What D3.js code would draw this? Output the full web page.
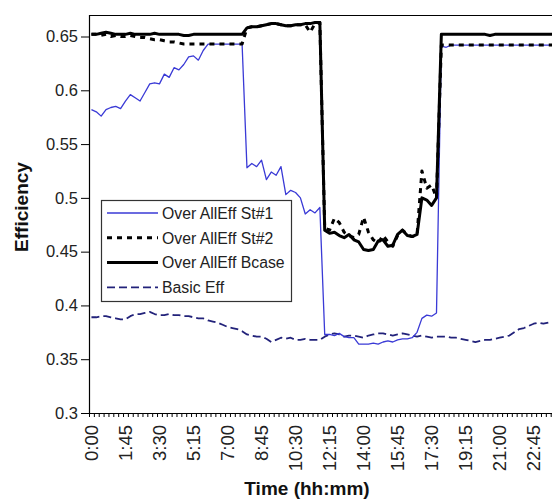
<!DOCTYPE html>
<html>
<head>
<meta charset="utf-8">
<script src="https://cdn.jsdelivr.net/npm/d3@7"></script>
<style>
  body { margin: 0; background: #fff; }
  text { font-family: "Liberation Sans", Arial, sans-serif; }
</style>
</head>
<body>
<svg id="canvas"></svg>
<script>
//--chart data (one value per 15 minutes, 0:00 .. 23:45)
let tickLabels = ["0:00", "1:45", "3:30", "5:15", "7:00", "8:45", "10:30", "12:15", "14:00", "15:45", "17:30", "19:15", "21:00", "22:45"]
let yTicks = [0.3, 0.35, 0.4, 0.45, 0.5, 0.55, 0.6, 0.65]

let st1 = [
  0.582, 0.580, 0.576, 0.582, 0.584, 0.585, 0.583, 0.590, 0.596, 0.593, 0.590, 0.598, 0.606, 0.607, 0.606, 0.615,
  0.612, 0.621, 0.619, 0.624, 0.631, 0.632, 0.628, 0.637, 0.643, 0.643, 0.643, 0.643, 0.643, 0.643, 0.643, 0.643,
  0.528, 0.532, 0.529, 0.535, 0.517, 0.524, 0.521, 0.529, 0.503, 0.507, 0.505, 0.500, 0.485, 0.489, 0.486, 0.491,
  0.373, 0.373, 0.372, 0.374, 0.371, 0.370, 0.370, 0.364, 0.364, 0.364, 0.365, 0.364, 0.366, 0.367, 0.366, 0.368,
  0.369, 0.369, 0.370, 0.375, 0.388, 0.391, 0.390, 0.393, 0.641, 0.640, 0.642, 0.642, 0.642, 0.642, 0.642, 0.642,
  0.642, 0.642, 0.642, 0.642, 0.642, 0.642, 0.642, 0.642, 0.642, 0.642, 0.642, 0.642, 0.642, 0.642, 0.642, 0.642
]
let st2 = [
  0.652, 0.652, 0.651, 0.652, 0.650, 0.651, 0.650, 0.650, 0.651, 0.650, 0.649, 0.649, 0.648, 0.647, 0.647, 0.646,
  0.645, 0.645, 0.644, 0.643, 0.643, 0.643, 0.643, 0.643, 0.643, 0.643, 0.643, 0.643, 0.643, 0.643, 0.643, 0.643,
  0.658, 0.659, 0.659, 0.660, 0.661, 0.662, 0.662, 0.661, 0.660, 0.660, 0.661, 0.661, 0.661, 0.654, 0.662, 0.663,
  0.472, 0.470, 0.481, 0.477, 0.468, 0.465, 0.463, 0.466, 0.482, 0.468, 0.461, 0.458, 0.465, 0.459, 0.455, 0.465,
  0.470, 0.466, 0.464, 0.466, 0.525, 0.509, 0.512, 0.500, 0.642, 0.642, 0.642, 0.642, 0.642, 0.642, 0.642, 0.642,
  0.642, 0.642, 0.642, 0.642, 0.642, 0.642, 0.642, 0.642, 0.642, 0.642, 0.642, 0.642, 0.642, 0.642, 0.642, 0.642
]
let bcase = [
  0.652, 0.652, 0.653, 0.654, 0.653, 0.652, 0.652, 0.652, 0.653, 0.652, 0.652, 0.652, 0.652, 0.653, 0.652, 0.652,
  0.652, 0.652, 0.652, 0.651, 0.651, 0.652, 0.652, 0.652, 0.652, 0.652, 0.652, 0.652, 0.652, 0.652, 0.652, 0.652,
  0.658, 0.659, 0.659, 0.660, 0.661, 0.662, 0.662, 0.661, 0.660, 0.660, 0.661, 0.661, 0.662, 0.662, 0.663, 0.663,
  0.470, 0.467, 0.468, 0.465, 0.463, 0.466, 0.461, 0.459, 0.452, 0.451, 0.452, 0.460, 0.461, 0.455, 0.456, 0.466,
  0.470, 0.465, 0.464, 0.466, 0.500, 0.498, 0.493, 0.500, 0.652, 0.652, 0.652, 0.652, 0.652, 0.652, 0.652, 0.652,
  0.652, 0.652, 0.651, 0.652, 0.652, 0.652, 0.652, 0.652, 0.652, 0.652, 0.652, 0.652, 0.652, 0.652, 0.652, 0.652
]
let basicEff = [
  0.389, 0.389, 0.390, 0.390, 0.389, 0.388, 0.387, 0.387, 0.390, 0.392, 0.392, 0.393, 0.394, 0.392, 0.391, 0.391,
  0.392, 0.391, 0.391, 0.390, 0.390, 0.389, 0.388, 0.388, 0.386, 0.385, 0.384, 0.382, 0.380, 0.379, 0.378, 0.376,
  0.373, 0.372, 0.371, 0.371, 0.369, 0.366, 0.368, 0.370, 0.369, 0.370, 0.368, 0.368, 0.369, 0.368, 0.368, 0.368,
  0.371, 0.373, 0.374, 0.373, 0.371, 0.372, 0.372, 0.371, 0.370, 0.372, 0.373, 0.374, 0.374, 0.373, 0.372, 0.373,
  0.374, 0.373, 0.372, 0.371, 0.372, 0.371, 0.370, 0.371, 0.371, 0.371, 0.370, 0.370, 0.369, 0.368, 0.367, 0.366,
  0.367, 0.368, 0.368, 0.369, 0.370, 0.371, 0.372, 0.375, 0.378, 0.379, 0.381, 0.383, 0.384, 0.383, 0.384, 0.385
]
//--

//--categories: 15 minute slots
let slots = d3.range(96).map(i => Math.floor(i / 4) + ":" + String((i % 4) * 15).padStart(2, "0"))

//--series and how each one is drawn
let series = [
  { name: "Over AllEff St#1", values: st1, color: "#3a3ad6", width: 1.3, dash: null },
  { name: "Over AllEff St#2", values: st2, color: "#000", width: 3, dash: "5,5" },
  { name: "Over AllEff Bcase", values: bcase, color: "#000", width: 3, dash: null },
  { name: "Basic Eff", values: basicEff, color: "#22227a", width: 1.8, dash: "8,4" }
]
//--

//--canvas dimensions
let width = 552;
let height = 501;
let plotLeft = 89;
let plotTop = 15;
let plotBottom = 413;
let step = 4.86;
let plotRight = plotLeft + step * slots.length;

let canvas = d3.select("#canvas")
canvas.attr("width", width)
canvas.attr("height", height)
//--

//--scales
let xBand = d3.scaleBand().domain(slots).range([plotLeft, plotRight]).paddingInner(0).paddingOuter(0)
let xPos = d => xBand(d) + xBand.bandwidth() / 2
let xEdge = d3.scaleLinear().domain([0, slots.length]).range([plotLeft, plotRight])
let yScale = d3.scaleLinear().domain([0.3, 0.67]).range([plotBottom, plotTop])
//--

//--frame (top edge only, right side runs off the picture)
canvas.append("line")
      .attr("x1", plotLeft).attr("x2", plotRight)
      .attr("y1", plotTop + 0.5).attr("y2", plotTop + 0.5)
      .attr("stroke", "#000").attr("stroke-width", 1.2)
//--

//--lines (bcase before st2 so the dashes sit on top where they differ)
let line = d3.line()
             .x((d, i) => xPos(slots[i]))
             .y(d => yScale(d))

let drawOrder = [series[3], series[0], series[2], series[1]]
canvas.append("g")
      .selectAll("path")
      .data(drawOrder)
      .enter()
      .append("path")
      .attr("d", d => line(d.values))
      .attr("fill", "none")
      .attr("stroke", d => d.color)
      .attr("stroke-width", d => d.width)
      .attr("stroke-dasharray", d => d.dash)
      .attr("stroke-linejoin", "round")
//--

//--y axis
let yAxis = d3.axisLeft(yScale)
              .tickValues(yTicks)
              .tickSize(8)
              .tickPadding(3)
              .tickFormat(d => String(+d.toFixed(2)))

let gy = canvas.append("g")
               .attr("transform", "translate(" + plotLeft + ",0)")
               .call(yAxis)
gy.select(".domain").attr("stroke", "#000").attr("stroke-width", 1.2)
  .attr("d", "M0.5," + plotTop + "V" + (plotBottom + 0.5))
gy.selectAll(".tick line").attr("stroke", "#000").attr("x1", 0.5)
gy.selectAll("text")
  .attr("font-size", 16.5)
  .attr("fill", "#222")
  .attr("font-family", "'Liberation Sans', Arial, sans-serif")
//--

//--x axis: small ticks on every category edge
let xTicks = d3.axisBottom(xEdge)
               .tickValues(d3.range(slots.length + 1))
               .tickSize(4)
               .tickFormat("")
let gx = canvas.append("g")
               .attr("transform", "translate(0," + plotBottom + ")")
               .call(xTicks)
gx.select(".domain").attr("stroke", "#000").attr("stroke-width", 1.2)
  .attr("d", "M" + plotLeft + ",0.5H" + plotRight)
gx.selectAll(".tick line").attr("stroke", "#000")

//--x labels every 7th slot, rotated
let xLabels = d3.axisBottom(xBand)
                .tickValues(tickLabels)
                .tickSize(0)
                .tickPadding(0)
let gl = canvas.append("g")
               .attr("transform", "translate(0," + plotBottom + ")")
               .call(xLabels)
gl.select(".domain").remove()
gl.selectAll("text")
  .attr("font-size", 18.5)
  .attr("fill", "#222")
  .attr("font-family", "'Liberation Sans', Arial, sans-serif")
  .attr("text-anchor", "end")
  .attr("transform", "translate(0,12) rotate(-90)")
  .attr("x", 0)
  .attr("y", 0)
  .attr("dy", "0.35em")
//--

//--axis titles
canvas.append("text")
      .attr("transform", "translate(28,207) rotate(-90)")
      .attr("text-anchor", "middle")
      .attr("font-size", 19)
      .attr("font-weight", "bold")
      .attr("fill", "#111")
      .text("Efficiency")

canvas.append("text")
      .attr("x", 307)
      .attr("y", 495)
      .attr("text-anchor", "middle")
      .attr("font-size", 19)
      .attr("font-weight", "bold")
      .attr("fill", "#111")
      .text("Time (hh:mm)")
//--

//--legend
let legend = canvas.append("g").attr("id", "legend")
legend.append("rect")
      .attr("x", 101.5).attr("y", 200.5)
      .attr("width", 190).attr("height", 101)
      .attr("fill", "#fff")
      .attr("stroke", "#333")
      .attr("stroke-width", 1.2)

let rows = legend.selectAll(".row")
                 .data(series)
                 .enter()
                 .append("g")
                 .attr("class", "row")
                 .attr("transform", (d, i) => "translate(107," + (213 + i * 24.8) + ")")
rows.append("line")
    .attr("x1", 0).attr("x2", 51)
    .attr("stroke", d => d.color)
    .attr("stroke-width", d => d.width)
    .attr("stroke-dasharray", d => d.dash)
rows.append("text")
    .attr("x", 55)
    .attr("dy", "0.36em")
    .attr("font-size", 15.8)
    .attr("fill", "#222")
    .text(d => d.name)
//--
</script>
</body>
</html>
